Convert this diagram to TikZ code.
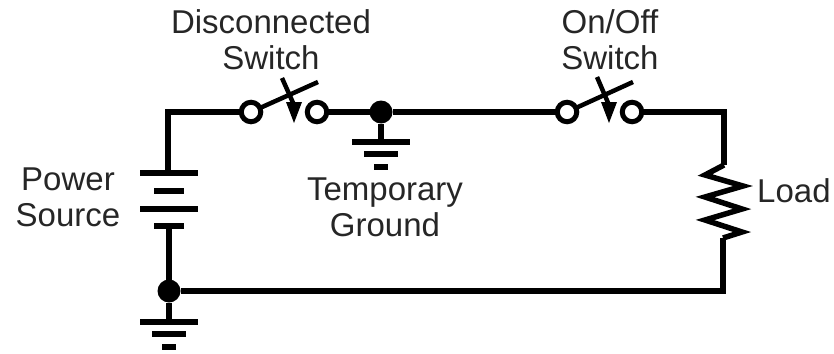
\documentclass[tikz,border=0pt]{standalone}
\usepackage{fontspec}
\setmainfont{Liberation Sans}

\tikzset{
  wire/.style={line width=5.5pt,line cap=butt,line join=miter},
  blade/.style={line width=4.5pt},
  terminal/.style={circle,draw,fill=white,line width=5pt,outer sep=0pt,minimum size=19.5pt,inner sep=0pt},
  junction/.style={circle,fill=black,outer sep=0pt,minimum size=23pt,inner sep=0pt},
  label/.style={align=center,font=\fontsize{33}{36}\selectfont,text=black!85},
}

\begin{document}
\begin{tikzpicture}[x=1pt,y=-1pt]
\useasboundingbox (0,0) rectangle (834,353);

% corners of the loop
\coordinate (TL) at (168,112);
\coordinate (TR) at (724,112);
\coordinate (BR) at (723,291);

\node[junction] (J1) at (381,112) {};
\node[junction] (J2) at (169,291) {};

% battery plates
\coordinate (P1) at (168,173);
\coordinate (P4) at (169,226);
\draw[wire] (140,173) -- (198,173);
\draw[wire] (154,191) -- (184,191);
\draw[wire] (140,209) -- (198,209);
\draw[wire] (154,226) -- (184,226);

\node[terminal] (S1a) at (251,112) {};
\node[terminal] (S1b) at (317,112) {};
\node[terminal] (S2a) at (567,112) {};
\node[terminal] (S2b) at (632,112) {};

% wires
\draw[wire] (P1) -- (TL) -- (S1a);
\draw[wire] (S1b) -- (J1);
\draw[wire] (J1) -- (S2a);
\draw[wire] (S2b) -- (TR) -- (724,165);
\draw[wire] (P4) -- (J2);
\draw[wire] (J2) -- (BR) -- (723,238);

% load
\draw[wire] (724,165) -- (705,175) -- (743,186) -- (705,197) -- (742,209) -- (705,220) -- (742,232) -- (723,238);

% first switch
\coordinate (B1) at (318,82);
\draw[blade] (S1a) -- (B1);
\coordinate (A1) at (282,78);
\coordinate (H1) at (294,105);
\draw[blade] (A1) -- (H1);
\fill (294,123) -- (286,102) -- (302,102) -- cycle;

% second switch
\coordinate (B2) at (633,82);
\draw[blade] (S2a) -- (B2);
\coordinate (A2) at (597,77);
\coordinate (H2) at (609,105);
\draw[blade] (A2) -- (H2);
\fill (609,123) -- (601,102) -- (617,102) -- cycle;

% grounds
\coordinate (G1) at (381,142);
\draw[wire] (J1) -- (G1);
\draw[wire] (352,142) -- (410,142);
\draw[wire] (364,154) -- (398,154);
\draw[wire] (374,167) -- (388,167);

\coordinate (G2) at (169,322);
\draw[wire] (J2) -- (G2);
\draw[wire] (140,322) -- (198,322);
\draw[wire] (152,334) -- (186,334);
\draw[wire] (162,347) -- (176,347);

\node[label] (disc) at (271,40) {Disconnected\\Switch};
\node[label] (onoff) at (610,40) {On/Off\\Switch};
\node[label] (power) at (68,197) {Power\\Source};
\node[label] (temp) at (385,207) {Temporary\\Ground};
\node[label,anchor=west,inner sep=0pt] (load) at (757,191) {Load};

\end{tikzpicture}
\end{document}
